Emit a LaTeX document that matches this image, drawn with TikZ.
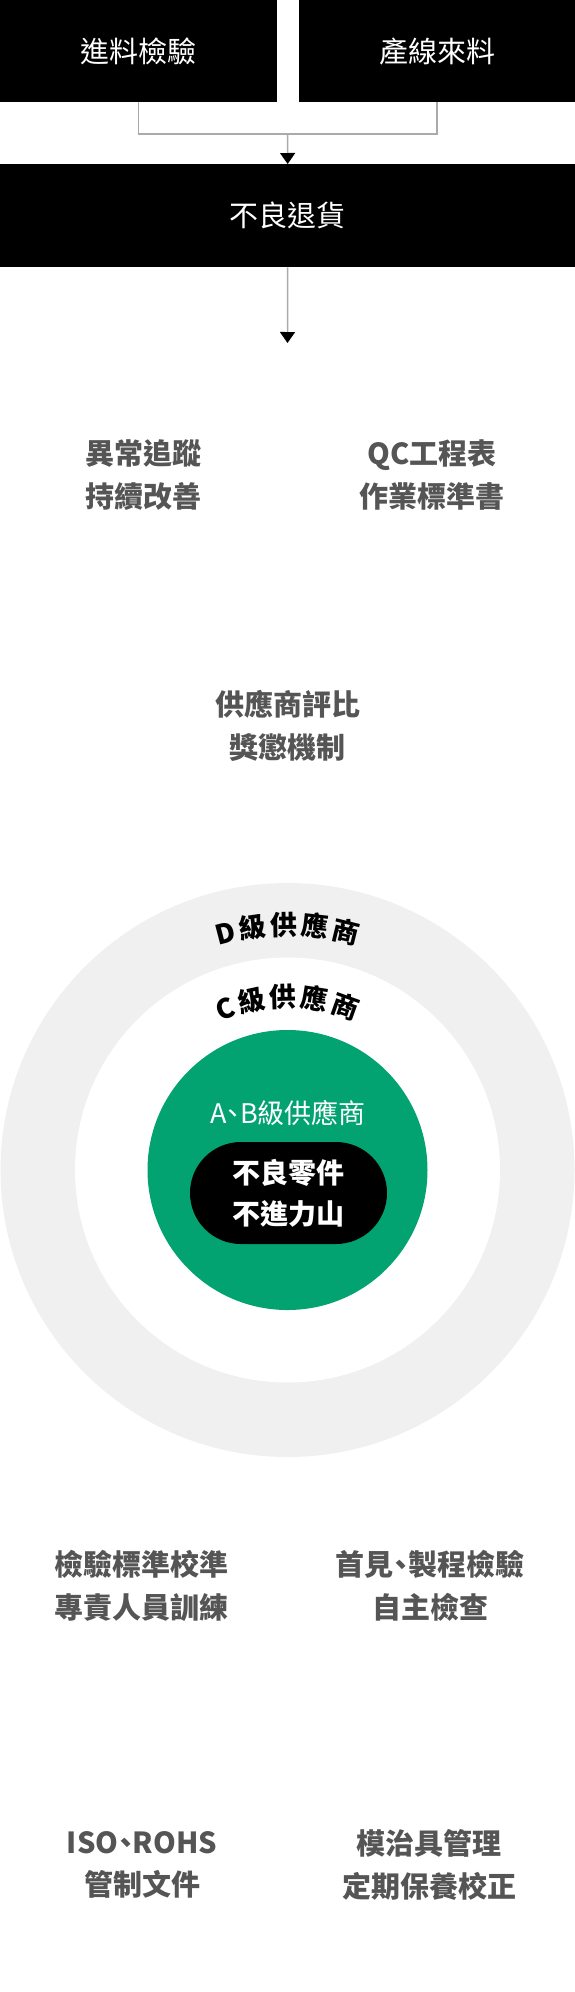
\documentclass[tikz,border=0pt]{standalone}
\usepackage{fontspec}
\newfontfamily\cjk{Noto Sans CJK TC}
\newfontfamily\cjkp[RawFeature=+palt]{Noto Sans CJK TC}
\usetikzlibrary{positioning, calc, arrows.meta, decorations.text}
\definecolor{gruen}{RGB}{2,163,112}
\definecolor{ringgrau}{RGB}{240,240,240}
\definecolor{textgrau}{RGB}{85,85,85}
\definecolor{liniengrau}{RGB}{170,170,170}
\newcommand{\bogenfont}{\cjk\bfseries\fontsize{27}{30}\selectfont}

\begin{document}
\begin{tikzpicture}[x=1pt, y=1pt,
	kasten/.style={fill=black, text=white, font=\cjk\fontsize{29}{35}\selectfont, inner sep=0pt},
	hinweis/.style={text=textgrau, font=\cjk\bfseries\fontsize{29}{42.5}\selectfont, align=center},
	linie/.style={draw=liniengrau, line width=1.5pt},
	pfeil/.style={linie, -{Triangle[width=15pt, length=11pt, black]}},
	ring/.style={circle, inner sep=0pt}]
	\useasboundingbox (0,0) rectangle (575,-1992);
	% Eingang oben
	\node at (0,0) [kasten, anchor=north west, minimum width=277pt, minimum height=102pt] (eingang) {進料檢驗};
	\node [kasten, right=21pt of eingang, minimum width=277pt, minimum height=102pt] (linie) {產線來料};
	\node at (0,-164) [kasten, anchor=north west, minimum width=575pt, minimum height=103pt] (rueck) {不良退貨};
	\coordinate (treff) at (287.5,-134);
	\coordinate (ende) at (287.5,-343);
	\draw[linie] (eingang.south) |- (treff) -| (linie.south);
	\draw[pfeil] (treff) -- (rueck.north);
	\draw[pfeil] (rueck.south) -- (ende);
	% Massnahmen
	\node at (143,-475) [hinweis] (verfolg) {異常追蹤\\持續改善};
	\node at (432,-475) [hinweis] (qc) {QC工程表\\作業標準書};
	\node at (287.5,-726) [hinweis] (bewert) {供應商評比\\獎懲機制};
	% Lieferantenringe
	\coordinate (mitte) at (287.5,-1170);
	\node at (mitte) [ring, fill=ringgrau, minimum size=574pt] (dring) {};
	\node at (mitte) [ring, fill=white, minimum size=425pt] (cring) {};
	\node at (mitte) [ring, fill=gruen, minimum size=280pt] (abring) {};
	\path[decorate, decoration={text along path, text align=center,
		text={|\bogenfont|D{\hspace{3pt}}級{\hspace{3pt}}供{\hspace{3pt}}應{\hspace{3pt}}商}}]
		($(mitte)+(150:235)$) arc[start angle=150, end angle=30, radius=235];
	\path[decorate, decoration={text along path, text align=center,
		text={|\bogenfont|C{\hspace{3pt}}級{\hspace{3pt}}供{\hspace{3pt}}應{\hspace{3pt}}商}}]
		($(mitte)+(150:163)$) arc[start angle=150, end angle=30, radius=163];
	\node at (288,-1112.6) [text=white, font=\cjkp\fontsize{27}{30}\selectfont] (ab) {A、B級供應商};
	\node at (288.5,-1193) [fill=black, text=white, font=\cjk\bfseries\fontsize{28}{41}\selectfont, align=center,
		rounded corners=51pt, minimum width=197pt, minimum height=102pt] (sperre) {不良零件\\不進力山};
	% untere Massnahmen
	\node at (141.5,-1586) [hinweis] (kalib) {檢驗標準校準\\專責人員訓練};
	\node at (430,-1586) [hinweis, font=\cjkp\bfseries\fontsize{29}{42.5}\selectfont] (erst) {首見、製程檢驗\\自主檢查};
	\node at (142,-1865) [hinweis, font=\cjkp\bfseries\fontsize{29}{42.5}\selectfont] (iso) {ISO、ROHS\\管制文件};
	\node at (429,-1865) [hinweis] (form) {模治具管理\\定期保養校正};
\end{tikzpicture}
\end{document}
